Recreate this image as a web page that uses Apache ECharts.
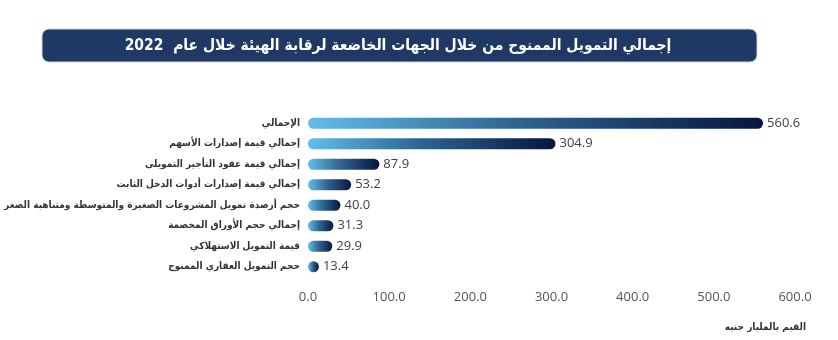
<!DOCTYPE html>
<html>
<head>
<meta charset="utf-8">
<style>
  html, body { margin: 0; padding: 0; background: #ffffff; }
  #chart { width: 838px; height: 340px; }
</style>
<script src="https://cdn.jsdelivr.net/npm/echarts@6/dist/echarts.min.js"></script>
</head>
<body>
<div id="chart"></div>
<script>
// Financing categories, listed from the top row down
const categories = [
  'الإجمالي',
  'إجمالي قيمة إصدارات الأسهم',
  'إجمالي قيمة عقود التأجير التمويلى',
  'إجمالي قيمة إصدارات أدوات الدخل الثابت',
  'حجم أرصدة تمويل المشروعات الصغيرة والمتوسطة ومتناهية الصغر',
  'إجمالي حجم الأوراق المخصمة',
  'قيمة التمويل الاستهلاكي',
  'حجم التمويل العقاري الممنوح'
];

// Values in billions of EGP
const values = [560.6, 304.9, 87.9, 53.2, 40.0, 31.3, 29.9, 13.4];

// Value axis range and step
const axisMin = 0;
const axisMax = 600;
const axisStep = 100;

const titleText = 'إجمالي التمويل الممنوح من خلال الجهات الخاضعة لرقابة الهيئة خلال عام  2022';
const unitText = 'القيم بالمليار جنيه';

const arabicFont = '"DejaVu Sans Condensed", "DejaVu Sans", sans-serif';

const chart = echarts.init(document.getElementById('chart'), null, { renderer: 'canvas' });

const barGradient = new echarts.graphic.LinearGradient(0, 0, 1, 0, [
  { offset: 0, color: '#62bdea' },
  { offset: 0.45, color: '#2f6592' },
  { offset: 1, color: '#061640' }
]);

chart.setOption({
  backgroundColor: '#ffffff',
  animation: false,
  graphic: [
    {
      type: 'rect',
      shape: { x: 42, y: 29, width: 715, height: 33, r: 7 },
      style: { fill: '#1f3864', stroke: '#c9d3e3', lineWidth: 1 },
      z: 0
    },
    {
      type: 'text',
      x: 398,
      y: 46,
      style: {
        text: titleText,
        fill: '#ffffff',
        font: 'bold 15.5px ' + arabicFont,
        align: 'center',
        verticalAlign: 'middle'
      },
      z: 1
    },
    {
      type: 'text',
      x: 806,
      y: 327,
      style: {
        text: unitText,
        fill: '#333333',
        font: 'bold 10px ' + arabicFont,
        align: 'right',
        verticalAlign: 'middle'
      }
    }
  ],
  grid: {
    left: 308,
    right: 43,
    top: 113,
    bottom: 63,
    containLabel: false,
    outerBoundsMode: 'none'
  },
  xAxis: {
    type: 'value',
    min: axisMin,
    max: axisMax,
    interval: axisStep,
    axisLine: { show: false },
    axisTick: { show: false },
    splitLine: { show: false },
    axisLabel: {
      margin: 14,
      color: '#555555',
      fontSize: 13,
      fontFamily: 'Open Sans, sans-serif',
      formatter: (v) => v.toFixed(1)
    }
  },
  yAxis: {
    type: 'category',
    data: categories,
    inverse: true,
    axisLine: { show: false },
    axisTick: { show: false },
    axisLabel: {
      margin: 8,
      color: '#333333',
      fontSize: 10,
      fontWeight: 'bold',
      fontFamily: arabicFont
    }
  },
  series: [
    {
      type: 'bar',
      data: values,
      barWidth: 11,
      itemStyle: {
        color: barGradient,
        borderRadius: 6
      },
      label: {
        show: true,
        position: 'right',
        distance: 4,
        color: '#404040',
        fontSize: 13,
        fontFamily: 'Open Sans, sans-serif',
        formatter: (p) => p.value.toFixed(1)
      }
    }
  ]
});
</script>
</body>
</html>
